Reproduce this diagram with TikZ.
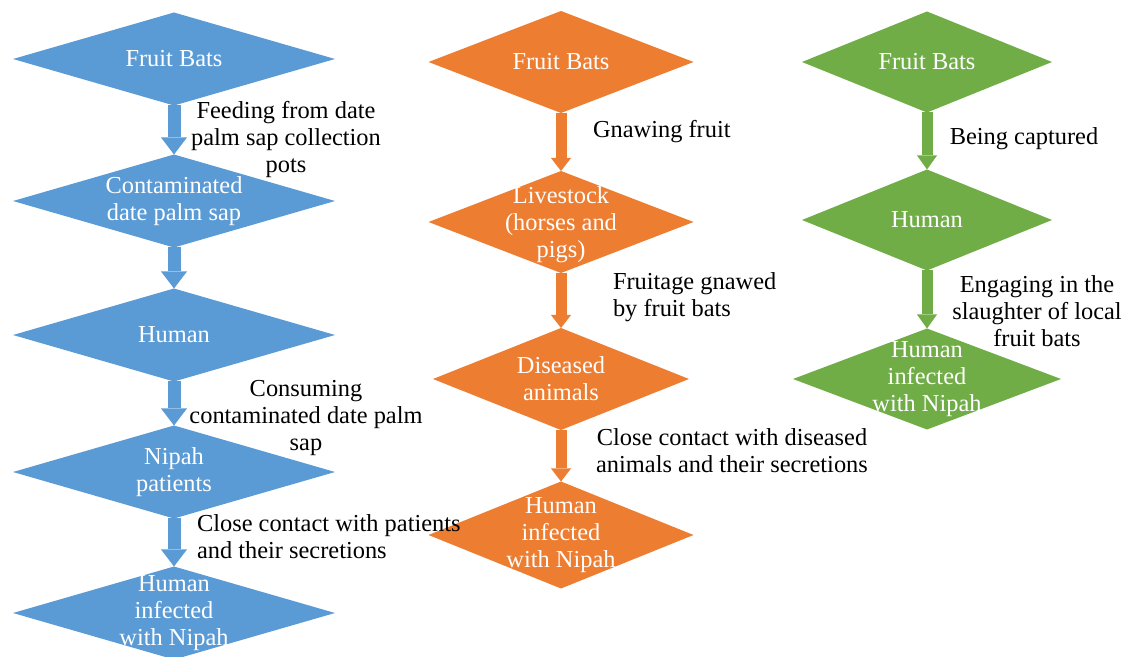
\documentclass[tikz,border=0pt]{standalone}
\usepackage{fontspec}
\setmainfont{Liberation Serif}
\usetikzlibrary{shapes.geometric,arrows.meta}
\definecolor{nipblue}{HTML}{5B9BD5}
\definecolor{niporange}{HTML}{ED7D31}
\definecolor{nipgreen}{HTML}{70AD47}
\begin{document}
\begin{tikzpicture}[x=0.5pt,y=-0.5pt,
  every node/.style={font=\fontsize{12.2}{13.5}\selectfont,inner sep=0pt,outer sep=0pt},
  bdia/.style={diamond,fill=nipblue,minimum width=161pt,minimum height=46.5pt},
  odia/.style={diamond,fill=niporange,minimum width=132.5pt,minimum height=51pt},
  gdia/.style={diamond,fill=nipgreen,minimum width=125pt,minimum height=50.5pt},
  intext/.style={text=white,align=center},
  lbl/.style={text=black,align=center},
  barr/.style={draw=nipblue,line width=6.5pt,-{Triangle[width=13pt,length=8.5pt,line width=0pt]}},
  oarr/.style={draw=niporange,line width=5.5pt,-{Triangle[width=10pt,length=6.5pt,line width=0pt]}},
  garr/.style={draw=nipgreen,line width=5.5pt,-{Triangle[width=10pt,length=7pt,line width=0pt]}}]
\useasboundingbox (0,0) rectangle (1126,657);
\begin{scope}
  \node[bdia] (b1) at (174,59) {};
  \node[bdia] (b2) at (174,201) {};
  \node[bdia] (b3) at (174,335) {};
  \node[bdia] (b4) at (174,472) {};
  \node[bdia] (b5) at (174,613) {};
  \draw[barr] (b1.south) -- (b2.north);
  \draw[barr] (b2.south) -- (b3.north);
  \draw[barr] (b3.south) -- (b4.north);
  \draw[barr] (b4.south) -- (b5.north);
\end{scope}
\begin{scope}
  \node[odia] (o1) at (561,62) {};
  \node[odia] (o2) at (561,222) {};
  \node[odia,minimum width=128pt] (o3) at (561,379) {};
  \node[odia,minimum height=53.5pt] (o4) at (561,535) {};
  \draw[oarr] (o1.south) -- (o2.north);
  \draw[oarr] (o2.south) -- (o3.north);
  \draw[oarr] (o3.south) -- (o4.north);
\end{scope}
\begin{scope}
  \node[gdia] (g1) at (927,62) {};
  \node[gdia] (g2) at (927,220) {};
  \node[gdia,minimum width=134pt] (g3) at (927,379) {};
  \draw[garr] (g1.south) -- (g2.north);
  \draw[garr] (g2.south) -- (g3.north);
\end{scope}
\node[intext] (b1t) at (b1) {Fruit Bats};
\node[intext] (b2t) at (b2) {Contaminated\\date palm sap};
\node[intext] (b3t) at (b3) {Human};
\node[intext] (b4t) at (b4) {Nipah\\patients};
\node[intext] (b5t) at (b5) {Human\\infected\\with Nipah};
\node[intext] (o1t) at (o1) {Fruit Bats};
\node[intext] (o2t) at (561,225) {Livestock\\(horses and\\pigs)};
\node[intext] (o3t) at (o3) {Diseased\\animals};
\node[intext] (o4t) at (o4) {Human\\infected\\with Nipah};
\node[intext] (g1t) at (g1) {Fruit Bats};
\node[intext] (g2t) at (g2) {Human};
\node[intext] (g3t) at (g3) {Human\\infected\\with Nipah};
\node[lbl] (bl1) at (286,140) {Feeding from date\\palm sap collection\\pots};
\node[lbl] (bl3) at (306,418) {Consuming\\contaminated date palm\\sap};
\node[lbl,align=left,anchor=west] (bl4) at (197,537) {Close contact with patients\\and their secretions};
\node[lbl,anchor=west] (ol1) at (593,132) {Gnawing fruit};
\node[lbl,align=left,anchor=west] (ol2) at (613,297) {Fruitage gnawed\\by fruit bats};
\node[lbl] (ol3) at (732,451) {Close contact with diseased\\animals and their secretions};
\node[lbl] (gl1) at (1024,139) {Being captured};
\node[lbl] (gl2) at (1037,311) {Engaging in the\\slaughter of local\\fruit bats};
\end{tikzpicture}
\end{document}
